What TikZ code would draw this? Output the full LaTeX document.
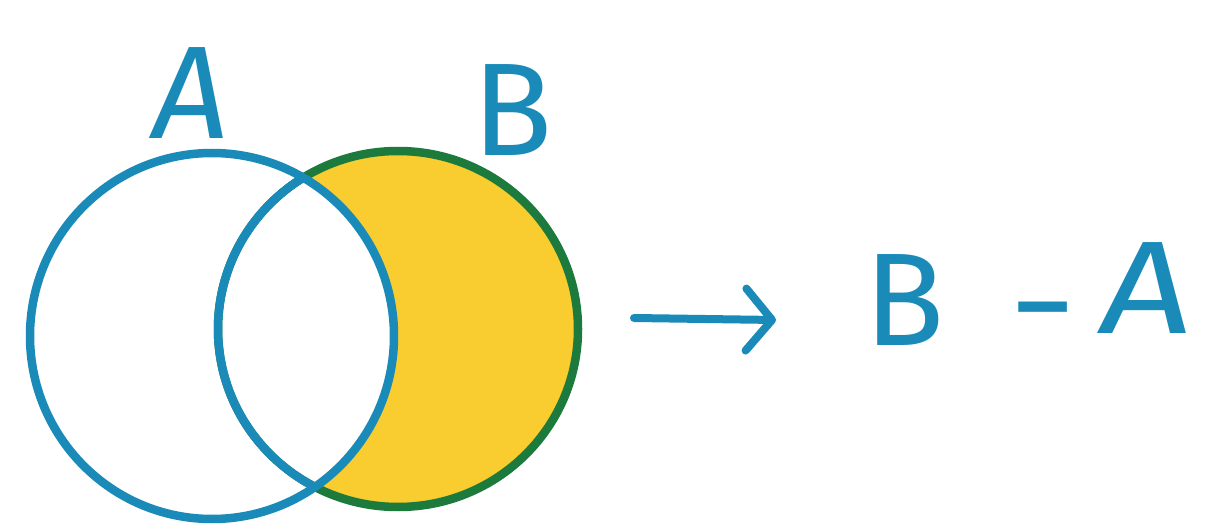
\documentclass[tikz,border=0pt]{standalone}
\usepackage{fontspec}
\setmainfont{Fira Sans}
\usetikzlibrary{arrows.meta}
\definecolor{inkblue}{HTML}{1A8BB9}
\definecolor{inkgreen}{HTML}{1B7A3C}
\definecolor{hlyellow}{HTML}{F9CC2F}
\tikzset{
  setline/.style={line width=8.5pt},
  biglabel/.style={text=inkblue, font=\fontsize{132}{132}\selectfont, inner sep=0pt},
  arrowline/.style={draw=inkblue, line width=8pt, line cap=round,
    -{Straight Barb[length=26pt,width=62pt,round]}}
}
\begin{document}
\begin{tikzpicture}[x=1pt,y=-1pt]
\useasboundingbox (0,0) rectangle (1213,529);
% B minus A highlight
\begin{scope}
  \clip (398,329) ellipse [x radius=180pt, y radius=178pt];
  \fill[hlyellow, even odd rule] (0,0) rectangle (1213,529)
        (212,336) ellipse [x radius=182pt, y radius=183pt];
\end{scope}
% circle B: green outside A, blue inside A
\draw[setline, inkgreen] (398,329) ellipse [x radius=180pt, y radius=178pt];
\begin{scope}
  \clip (212,336) ellipse [x radius=182pt, y radius=183pt];
  \draw[setline, inkblue] (398,329) ellipse [x radius=180pt, y radius=178pt];
\end{scope}
% circle A
\draw[setline, inkblue] (212,336) ellipse [x radius=182pt, y radius=183pt];
% labels
\node[biglabel, xslant=0.12] (labA) at (192,93) {A};
\node[biglabel] (labB) at (513,110) {B};
% arrow and expression
\coordinate (arrS) at (634,318);
\coordinate (arrE) at (776,320);
\draw[arrowline] (arrS) -- (arrE);
\node[biglabel] (exprB) at (905,300) {B};
\node[biglabel, xscale=1.3] (minus) at (1043,325) {-};
\node[biglabel, xslant=0.12, xscale=1.2] (exprA) at (1147,288) {A};
\end{tikzpicture}
\end{document}
